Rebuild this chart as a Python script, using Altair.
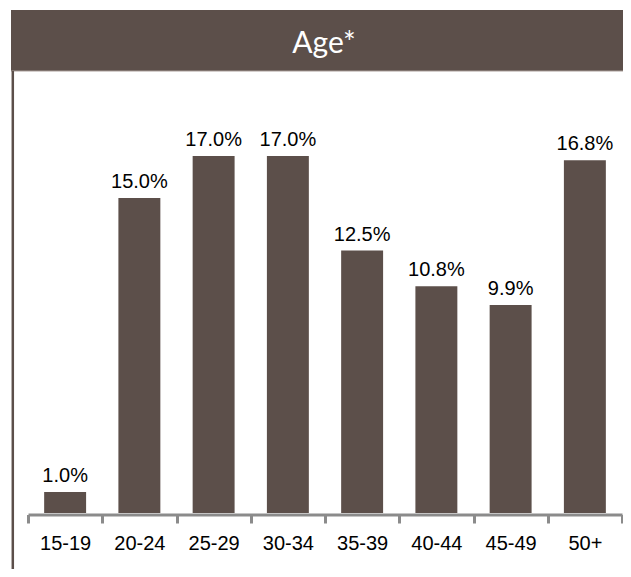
import altair as alt
import pandas as pd

categories = ["15-19", "20-24", "25-29", "30-34", "35-39", "40-44", "45-49", "50+"]
values = [1.0, 15.0, 17.0, 17.0, 12.5, 10.8, 9.9, 16.8]
title_text = "Age*"

BROWN = "#5c4f4a"
GRAY = "#8b8b8b"

df = pd.DataFrame({"age": categories, "value": values})
one = pd.DataFrame({"k": [0]})

W, H = 594, 420

x_enc = alt.X(
    "age:N",
    sort=categories,
    scale=alt.Scale(paddingInner=0, paddingOuter=0),
    axis=alt.Axis(
        title=None,
        labelAngle=0,
        labelFont="Liberation Sans",
        labelFontSize=20,
        labelColor="black",
        domainColor=GRAY,
        domainWidth=3,
        tickColor=GRAY,
        tickWidth=3,
        tickSize=8.5,
        tickBand="extent",
        offset=1.5,
        labelPadding=10,
        grid=False,
    ),
)
y_enc = alt.Y("value:Q", scale=alt.Scale(domain=[0, 20]), axis=None)

bars = alt.Chart(df).mark_bar(color=BROWN, width=alt.RelativeBandSize(0.565)).encode(x=x_enc, y=y_enc)

labels = (
    alt.Chart(df)
    .transform_calculate(label="format(datum.value, '.1f') + '%'")
    .mark_text(dy=-10, baseline="alphabetic", fontSize=20, font="Liberation Sans", color="black")
    .encode(x=alt.X("age:N", sort=categories), y="value:Q", text="label:N")
)

title_bar = alt.Chart(one).mark_rect(color=BROWN).encode(
    x=alt.value(-17), x2=alt.value(W + 1), y=alt.value(-83), y2=alt.value(-22)
)
title_line = alt.Chart(one).mark_rule(color="#a99e99", strokeWidth=1).encode(
    x=alt.value(-17), x2=alt.value(W + 1), y=alt.value(-22)
)
left_line = alt.Chart(one).mark_rule(color=BROWN, strokeWidth=2.5).encode(
    x=alt.value(-15.2), y=alt.value(-22), y2=alt.value(H + 56)
)
title_mark = alt.Chart(one).mark_text(
    text=title_text, font="Lato", fontSize=30, color="white", align="center", baseline="alphabetic"
).encode(x=alt.value(296), y=alt.value(-40.5))

chart = (
    alt.layer(title_bar, title_line, left_line, title_mark, bars, labels)
    .properties(
        width=W,
        height=H,
        background="white",
        autosize=alt.AutoSizeParams(type="none"),
        padding={"left": 20, "top": 85, "right": 1, "bottom": 56},
    )
    .configure_view(strokeWidth=0, stroke=None)
)

chart.save("out.html", embed_options={"renderer": "svg", "actions": False})
